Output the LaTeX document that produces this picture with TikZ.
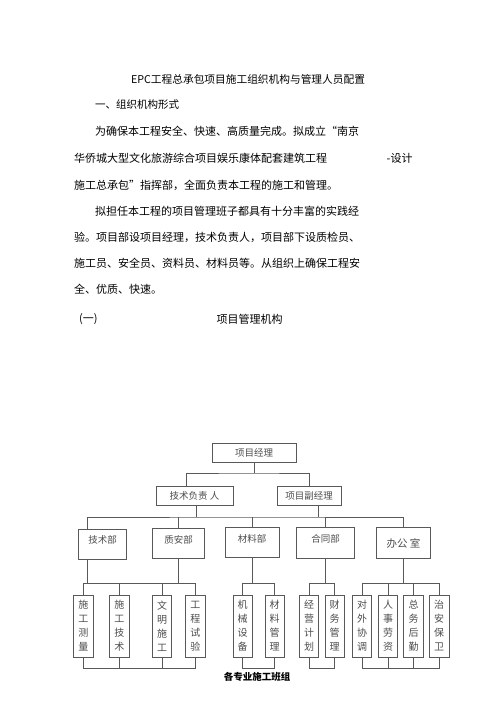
\documentclass[tikz,border=0pt]{standalone}
\usepackage{fontspec}
\setmainfont{Noto Sans CJK SC}
\usepackage{tikz}

\begin{document}
\begin{tikzpicture}[x=1pt,y=-1pt,
  line/.style={draw=black!65,line width=0.6pt},
  box/.style={line,font=\fontsize{9.5}{11}\selectfont,text=black!70,inner sep=1pt},
  dept/.style={box,minimum height=30pt,text depth=9pt},
  crew/.style={box,minimum width=19.5pt,minimum height=62pt,align=center,font=\fontsize{10}{14}\selectfont},
  para/.style={anchor=west,font=\fontsize{11}{13}\selectfont,inner sep=0pt}]
  \useasboundingbox (0,0) rectangle (500,708);
  \node[font=\fontsize{10.7}{12}\selectfont,inner sep=0pt] (title) at (248,79) {EPC工程总承包项目施工组织机构与管理人员配置};
  \node[para,font=\fontsize{10.5}{12}\selectfont] (sec) at (95,105) {一、组织机构形式};
  \node[para] (p1a) at (95,131) {为确保本工程安全、快速、高质量完成。拟成立“南京};
  \node[para] (p1b) at (74,158) {华侨城大型文化旅游综合项目娱乐康体配套建筑工程};
  \node[para] (p1c) at (386.5,158) {-设计};
  \node[para] (p1d) at (74,185) {施工总承包”指挥部，全面负责本工程的施工和管理。};
  \node[para] (p2a) at (95,211.5) {拟担任本工程的项目管理班子都具有十分丰富的实践经};
  \node[para] (p2b) at (74,237.5) {验。项目部设项目经理，技术负责人，项目部下设质检员、};
  \node[para] (p2c) at (74,263.5) {施工员、安全员、资料员、材料员等。从组织上确保工程安};
  \node[para] (p2d) at (74,289.5) {全、优质、快速。};
  \node[para] (sub) at (79,319) {(一)};
  \node[para] (subt) at (216.5,319) {项目管理机构};

  \node[box,minimum width=84pt,minimum height=19pt] (pm) at (254,453) {项目经理};
  \node[box,minimum width=77pt,minimum height=19pt] (tl) at (194.5,495.5) {技术负责 人};
  \node[box,minimum width=64pt,minimum height=19pt] (vm) at (309,495.5) {项目副经理};
  \node[dept,minimum width=48pt] (jsb) at (102.5,544) {技术部};
  \node[dept,minimum width=52pt] (zab) at (178.5,543.5) {质安部};
  \node[dept,minimum width=54pt] (clb) at (252,542.5) {材料部};
  \node[dept,minimum width=58pt,minimum height=31.5pt] (htb) at (325.5,543) {合同部};
  \node[box,minimum width=54pt,minimum height=31.5pt,font=\fontsize{10.5}{12}\selectfont] (bgs) at (403.5,543) {办公 室};

  \foreach \x/\n/\t in {83.3/sg1/施\\工\\测\\量, 119.3/sg2/施\\工\\技\\术, 162/sg3/文\\明\\施\\工, 195.3/sg4/工\\程\\试\\验,
    242.7/cl1/机\\械\\设\\备, 274.7/cl2/材\\料\\管\\理, 309/ht1/经\\营\\计\\划, 334.7/ht2/财\\务\\管\\理,
    362/bg1/对\\外\\协\\调, 388/bg2/人\\事\\劳\\资, 413.5/bg3/总\\务\\后\\勤, 439.2/bg4/治\\安\\保\\卫}
    \node[crew] (\n) at (\x,626) {\t};

  \node[font=\fontsize{9.5}{11}\selectfont\bfseries,inner sep=0pt] (crews) at (257,677) {各专业施工班组};

  \coordinate (b1) at (250,473);
  \coordinate (b2) at (250,517);
  \coordinate (b3) at (250,583);
  \coordinate (b4) at (250,668);

  \draw[line] (pm.south) -- (pm.south |- b1);
  \draw[line] ([xshift=-8pt]tl.north) |- (b1) -| (vm.north);
  \draw[line] ([xshift=-15.5pt]jsb.north) |- (b2) -| (bgs.north);
  \draw[line] ([xshift=1.5pt]tl.south) -- ([xshift=1.5pt]tl.south |- b2);
  \draw[line] ([xshift=9.5pt]vm.south) -- ([xshift=9.5pt]vm.south |- b2);
  \foreach \n in {zab,clb,htb}
    \draw[line] (\n.north) -- (\n.north |- b2);

  \draw[line] (sg1.north) |- (b3 -| sg4.north) -- (sg4.north);
  \draw[line] (cl1.north) |- (b3 -| cl2.north) -- (cl2.north);
  \draw[line] (ht1.north) |- (b3 -| ht2.north) -- (ht2.north);
  \draw[line] (bg1.north) |- (b3 -| bg4.north) -- (bg4.north);
  \foreach \n in {sg2,sg3,bg2,bg3}
    \draw[line] (\n.north) -- (\n.north |- b3);
  \draw[line] ([xshift=-15.5pt]jsb.south) -- ([xshift=-15.5pt]jsb.south |- b3);
  \foreach \n in {zab,clb,htb,bgs}
    \draw[line] (\n.south) -- (\n.south |- b3);

  \draw[line] (sg1.south) |- (b4 -| sg4.south) -- (sg4.south);
  \draw[line] (cl1.south) |- (b4 -| cl2.south) -- (cl2.south);
  \draw[line] (ht1.south) |- (b4 -| ht2.south) -- (ht2.south);
  \draw[line] (bg1.south) |- (b4 -| bg4.south) -- (bg4.south);
  \foreach \n in {sg2,sg3,bg2,bg3}
    \draw[line] (\n.south) -- (\n.south |- b4);
\end{tikzpicture}
\end{document}
